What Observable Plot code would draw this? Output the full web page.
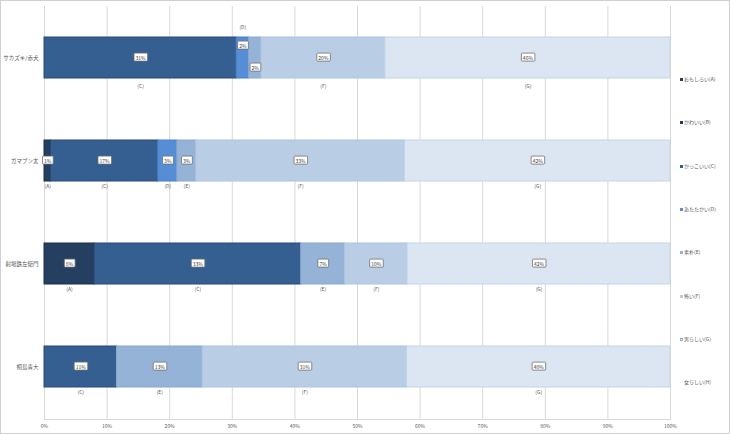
<!DOCTYPE html>
<html><head><meta charset="utf-8">
<script src="https://cdn.jsdelivr.net/npm/d3@7"></script>
<script src="https://cdn.jsdelivr.net/npm/@observablehq/plot@0.6"></script>
<style>
html,body{margin:0;padding:0;background:#fff;}
#wrap{position:relative;width:730px;height:434px;overflow:hidden;font-family:"Noto Sans CJK JP","Noto Sans",sans-serif;}
#frame{position:absolute;left:0;top:0;width:728px;height:432px;border:1px solid #d0d0d0;pointer-events:none;}
#legend{position:absolute;left:680px;top:0;}
.li{position:absolute;left:0;white-space:nowrap;font-size:5px;color:#595959;line-height:6px;}
.sw{display:inline-block;width:3px;height:3px;margin-right:1px;vertical-align:middle;box-sizing:border-box;}
</style></head><body>
<div id="wrap"><div id="chart"></div><div id="legend"></div><div id="frame"></div></div>
<script>
const categories = ["サカズキ/赤犬", "ガマブン太", "射場鉄左衛門", "桐島青大"];
const series = ["A", "B", "C", "D", "E", "F", "G", "H"];
const seriesNames = ["おもしろい(A)", "かわいい(B)", "かっこいい(C)", "あたたかい(D)", "素朴(E)", "怖い(F)", "男らしい(G)", "女らしい(H)"];
const valuesA = [0, 1, 8, 0];
const valuesB = [0, 0, 0, 0];
const valuesC = [31, 17, 33, 11];
const valuesD = [2, 3, 0, 0];
const valuesE = [2, 3, 7, 13];
const valuesF = [20, 33, 10, 31];
const valuesG = [46, 42, 42, 40];
const valuesH = [0, 0, 0, 0];
const xTicks = [0, 0.1, 0.2, 0.3, 0.4, 0.5, 0.6, 0.7, 0.8, 0.9, 1];

const colors = ["#243F60", "#1F3864", "#365F91", "#558ED5", "#95B3D7", "#B9CDE5", "#DCE6F2", "none"];
const strokes = ["#1b2f4a", "#1b2f4a", "#264b79", "#4a80c8", "#8aa8d0", "#aec4e0", "#c3d4ea", "none"];

const allValues = [valuesA, valuesB, valuesC, valuesD, valuesE, valuesF, valuesG, valuesH];
const data = [];
categories.forEach((c, ci) => {
  series.forEach((s, si) => {
    data.push({cat: c, series: s, value: allValues[si][ci], ci, si});
  });
});

// label layout (not data): which letter labels go above, which are hidden, and shifted value labels
const letterAbove = new Set(["0-D"]);
const letterHidden = new Set(["0-E"]);
const valueUp = new Set(["0-D"]);
const valueDown = new Set(["0-E"]);
const key = d => d.ci + "-" + d.series;
const letter = d => "(" + d.series + ")";
const pct = d => d.value + "%";

const stackOpts = (extra) => Plot.stackX({x: "value", y: "cat", z: "series", offset: "normalize", order: series, ...extra});

const plot = Plot.plot({
  width: 730,
  height: 434,
  marginLeft: 44,
  marginRight: 60,
  marginTop: 6,
  marginBottom: 15,
  style: {fontFamily: '"Noto Sans CJK JP","Noto Sans",sans-serif', background: "transparent"},
  x: {domain: [0, 1], ticks: xTicks, tickFormat: d3.format(".0%")},
  y: {domain: categories, paddingInner: 0.6, paddingOuter: 0.3, label: null},
  marks: [
    Plot.ruleX(xTicks, {stroke: "#d9d9d9", strokeWidth: 1}),
    Plot.frame({anchor: "bottom", stroke: "#d9d9d9"}),
    Plot.barX(data, stackOpts({fill: d => colors[d.si], stroke: d => strokes[d.si], strokeWidth: 1, inset: 0})),
    Plot.axisX({ticks: xTicks, tickSize: 0, tickPadding: 5, fontSize: 5, fill: "#595959", tickFormat: d3.format(".0%"), label: null}),
    Plot.axisY({tickSize: 0, tickPadding: 6, fontSize: 5.5, fill: "#595959", label: null}),
    // letter labels
    Plot.text(data, stackOpts({text: d => d.value > 0 && d.ci === 0 && !letterAbove.has(key(d)) && !letterHidden.has(key(d)) ? letter(d) : null, dy: 28, fontSize: 5, fill: "#595959"})),
    Plot.text(data, stackOpts({text: d => d.value > 0 && d.ci !== 0 && !letterAbove.has(key(d)) && !letterHidden.has(key(d)) ? letter(d) : null, dy: 25, fontSize: 5, fill: "#595959"})),
    Plot.text(data, stackOpts({text: d => d.value > 0 && letterAbove.has(key(d)) ? letter(d) : null, dy: -31, fontSize: 5, fill: "#595959"})),
    // value labels
    Plot.text(data, stackOpts({text: d => d.value > 0 && !valueUp.has(key(d)) && !valueDown.has(key(d)) ? pct(d) : null, fontSize: 5, fill: "#404040", className: "vlabel"})),
    Plot.text(data, stackOpts({text: d => d.value > 0 && valueUp.has(key(d)) ? pct(d) : null, dy: -12, fontSize: 5, fill: "#404040", className: "vlabel"})),
    Plot.text(data, stackOpts({text: d => d.value > 0 && valueDown.has(key(d)) ? pct(d) : null, dy: 10, fontSize: 5, fill: "#404040", className: "vlabel"}))
  ]
});
document.getElementById("chart").appendChild(plot);

// boxes behind value labels
plot.querySelectorAll(".vlabel text").forEach(t => {
  const b = t.getBBox();
  const r = document.createElementNS("http://www.w3.org/2000/svg", "rect");
  r.setAttribute("x", b.x - 1.5);
  r.setAttribute("y", b.y - 0.5);
  r.setAttribute("width", b.width + 3);
  r.setAttribute("height", b.height + 1);
  r.setAttribute("fill", "#fff");
  r.setAttribute("stroke", "#6f6f6f");
  r.setAttribute("stroke-width", "0.8");
  r.setAttribute("rx", "0.8");
  if (t.getAttribute("transform")) r.setAttribute("transform", t.getAttribute("transform"));
  t.parentNode.insertBefore(r, t);
});

// legend
const leg = document.getElementById("legend");
seriesNames.forEach((n, i) => {
  const div = document.createElement("div");
  div.className = "li";
  div.style.top = (76 + i * 43.3) + "px";
  const sw = document.createElement("span");
  sw.className = "sw";
  sw.style.background = colors[i] === "none" ? "transparent" : colors[i];
  if (i === 6) sw.style.border = "0.5px solid #95B3D7";
  div.appendChild(sw);
  div.appendChild(document.createTextNode(n));
  leg.appendChild(div);
});
</script>
</body></html>
